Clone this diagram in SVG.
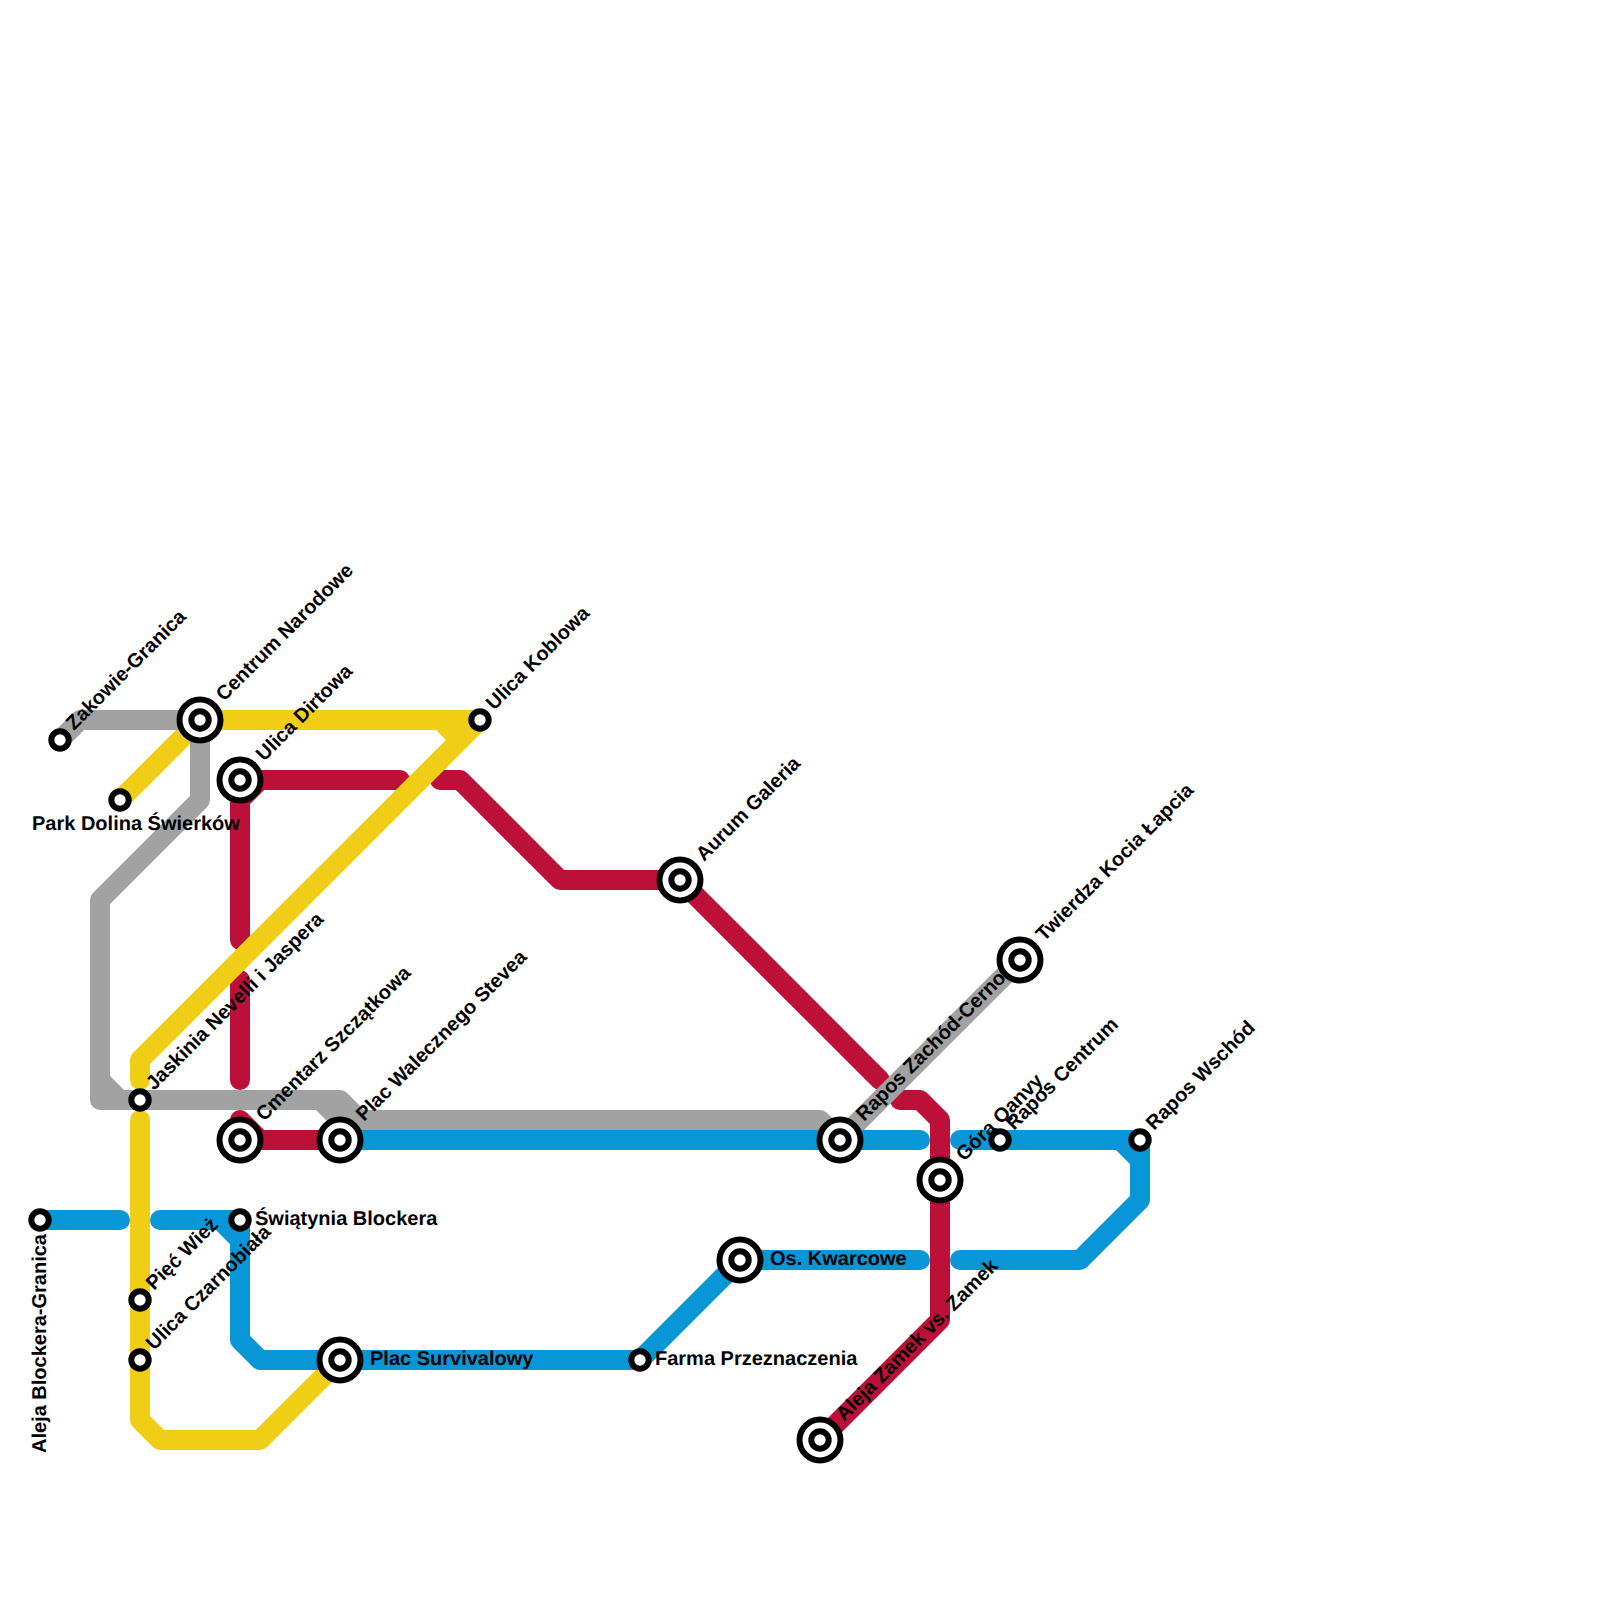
<svg xmlns="http://www.w3.org/2000/svg" width="1600" height="1600" viewBox="0 0 1600 1600">
<style>
.l{fill:none;stroke-width:20;stroke-linecap:round;stroke-linejoin:round}
.r{stroke:#bd1038}.y{stroke:#f0ce15}.g{stroke:#a2a2a2}.b{stroke:#0896d7}
.o{fill:#fff;stroke:#000;stroke-width:6}
text{font-family:"Liberation Sans",Arial,sans-serif;font-weight:700;font-size:20px;fill:#000;text-rendering:geometricPrecision}
</style>
<defs>
<g id="big"><circle class="o" r="20.5"/><circle class="o" r="8.7"/></g>
<circle id="small" class="o" r="8.7"/>
</defs>
<rect width="1600" height="1600" fill="#fff"/>
<g id="connectors">
<path class="l r" d="M400 780H240V940M240 800L260 780M240 980V1080M240 1120L260 1140H340M440 780H460L560 880H680L880 1080M900 1100H920L940 1120V1320L820 1440"/>
<path class="l y" d="M120 800L200 720H480L140 1060V1080M440 720L460 740M140 1120V1420L160 1440H260L340 1360"/>
<path class="l g" d="M60 740L80 720H200V800L100 900V1100H340L360 1120H820L840 1140L1020 960M100 1080L120 1100M320 1100L340 1120V1140"/>
<path class="l b" d="M40 1220H120M160 1220H240V1340L260 1360H640L740 1260H920M220 1220L240 1240M340 1140H920M960 1140H1140V1200L1080 1260H960M1120 1140L1140 1160"/>
</g>
<g id="zakowie-granica"><use href="#small" x="60" y="740"/><text transform="translate(74 731) rotate(-45)">Zakowie-Granica</text></g>
<g id="park-dolina"><use href="#small" x="120" y="800"/><text x="32" y="830">Park Dolina Świerków</text></g>
<g id="centrum-narodowe"><use href="#big" x="200" y="720"/><text transform="translate(224 702) rotate(-45)">Centrum Narodowe</text></g>
<g id="ulica-dirtowa"><use href="#big" x="240" y="780"/><text transform="translate(264 762) rotate(-45)">Ulica Dirtowa</text></g>
<g id="ulica-koblowa"><use href="#small" x="480" y="720"/><text transform="translate(494 711) rotate(-45)">Ulica Koblowa</text></g>
<g id="aurum-galeria"><use href="#big" x="680" y="880"/><text transform="translate(704 862) rotate(-45)">Aurum Galeria</text></g>
<g id="twierdza"><use href="#big" x="1020" y="960"/><text transform="translate(1044 942) rotate(-45)">Twierdza Kocia Łapcia</text></g>
<g id="jaskinia"><use href="#small" x="140" y="1100"/><text transform="translate(154 1091) rotate(-45)">Jaskinia Nevelli i Jaspera</text></g>
<g id="cmentarz"><use href="#big" x="240" y="1140"/><text transform="translate(264 1122) rotate(-45)">Cmentarz Szczątkowa</text></g>
<g id="plac-walecznego"><use href="#big" x="340" y="1140"/><text transform="translate(364 1122) rotate(-45)">Plac Walecznego Stevea</text></g>
<g id="rapos-zachod"><use href="#big" x="840" y="1140"/><text transform="translate(864 1122) rotate(-45)">Rapos Zachód-Cerno</text></g>
<g id="gora-qanvy"><use href="#big" x="940" y="1180"/><text transform="translate(964 1162) rotate(-45)">Góra Qanvy</text></g>
<g id="rapos-centrum"><use href="#small" x="1000" y="1140"/><text transform="translate(1014 1131) rotate(-45)">Rapos Centrum</text></g>
<g id="rapos-wschod"><use href="#small" x="1140" y="1140"/><text transform="translate(1154 1131) rotate(-45)">Rapos Wschód</text></g>
<g id="aleja-blockera"><use href="#small" x="40" y="1220"/><text transform="translate(46 1453) rotate(-90)">Aleja Blockera-Granica</text></g>
<g id="swiatynia"><use href="#small" x="240" y="1220"/><text x="255" y="1225">Świątynia Blockera</text></g>
<g id="piec-wiez"><use href="#small" x="140" y="1300"/><text transform="translate(154 1291) rotate(-45)">Pięć Wież</text></g>
<g id="ulica-czarnobiala"><use href="#small" x="140" y="1360"/><text transform="translate(154 1351) rotate(-45)">Ulica Czarnobiała</text></g>
<g id="plac-survivalowy"><use href="#big" x="340" y="1360"/><text x="370" y="1365">Plac Survivalowy</text></g>
<g id="farma"><use href="#small" x="640" y="1360"/><text x="655" y="1365">Farma Przeznaczenia</text></g>
<g id="os-kwarcowe"><use href="#big" x="740" y="1260"/><text x="770" y="1265">Os. Kwarcowe</text></g>
<g id="aleja-zamek"><use href="#big" x="820" y="1440"/><text transform="translate(844 1422) rotate(-45)">Aleja Zamek vs. Zamek</text></g>
</svg>
